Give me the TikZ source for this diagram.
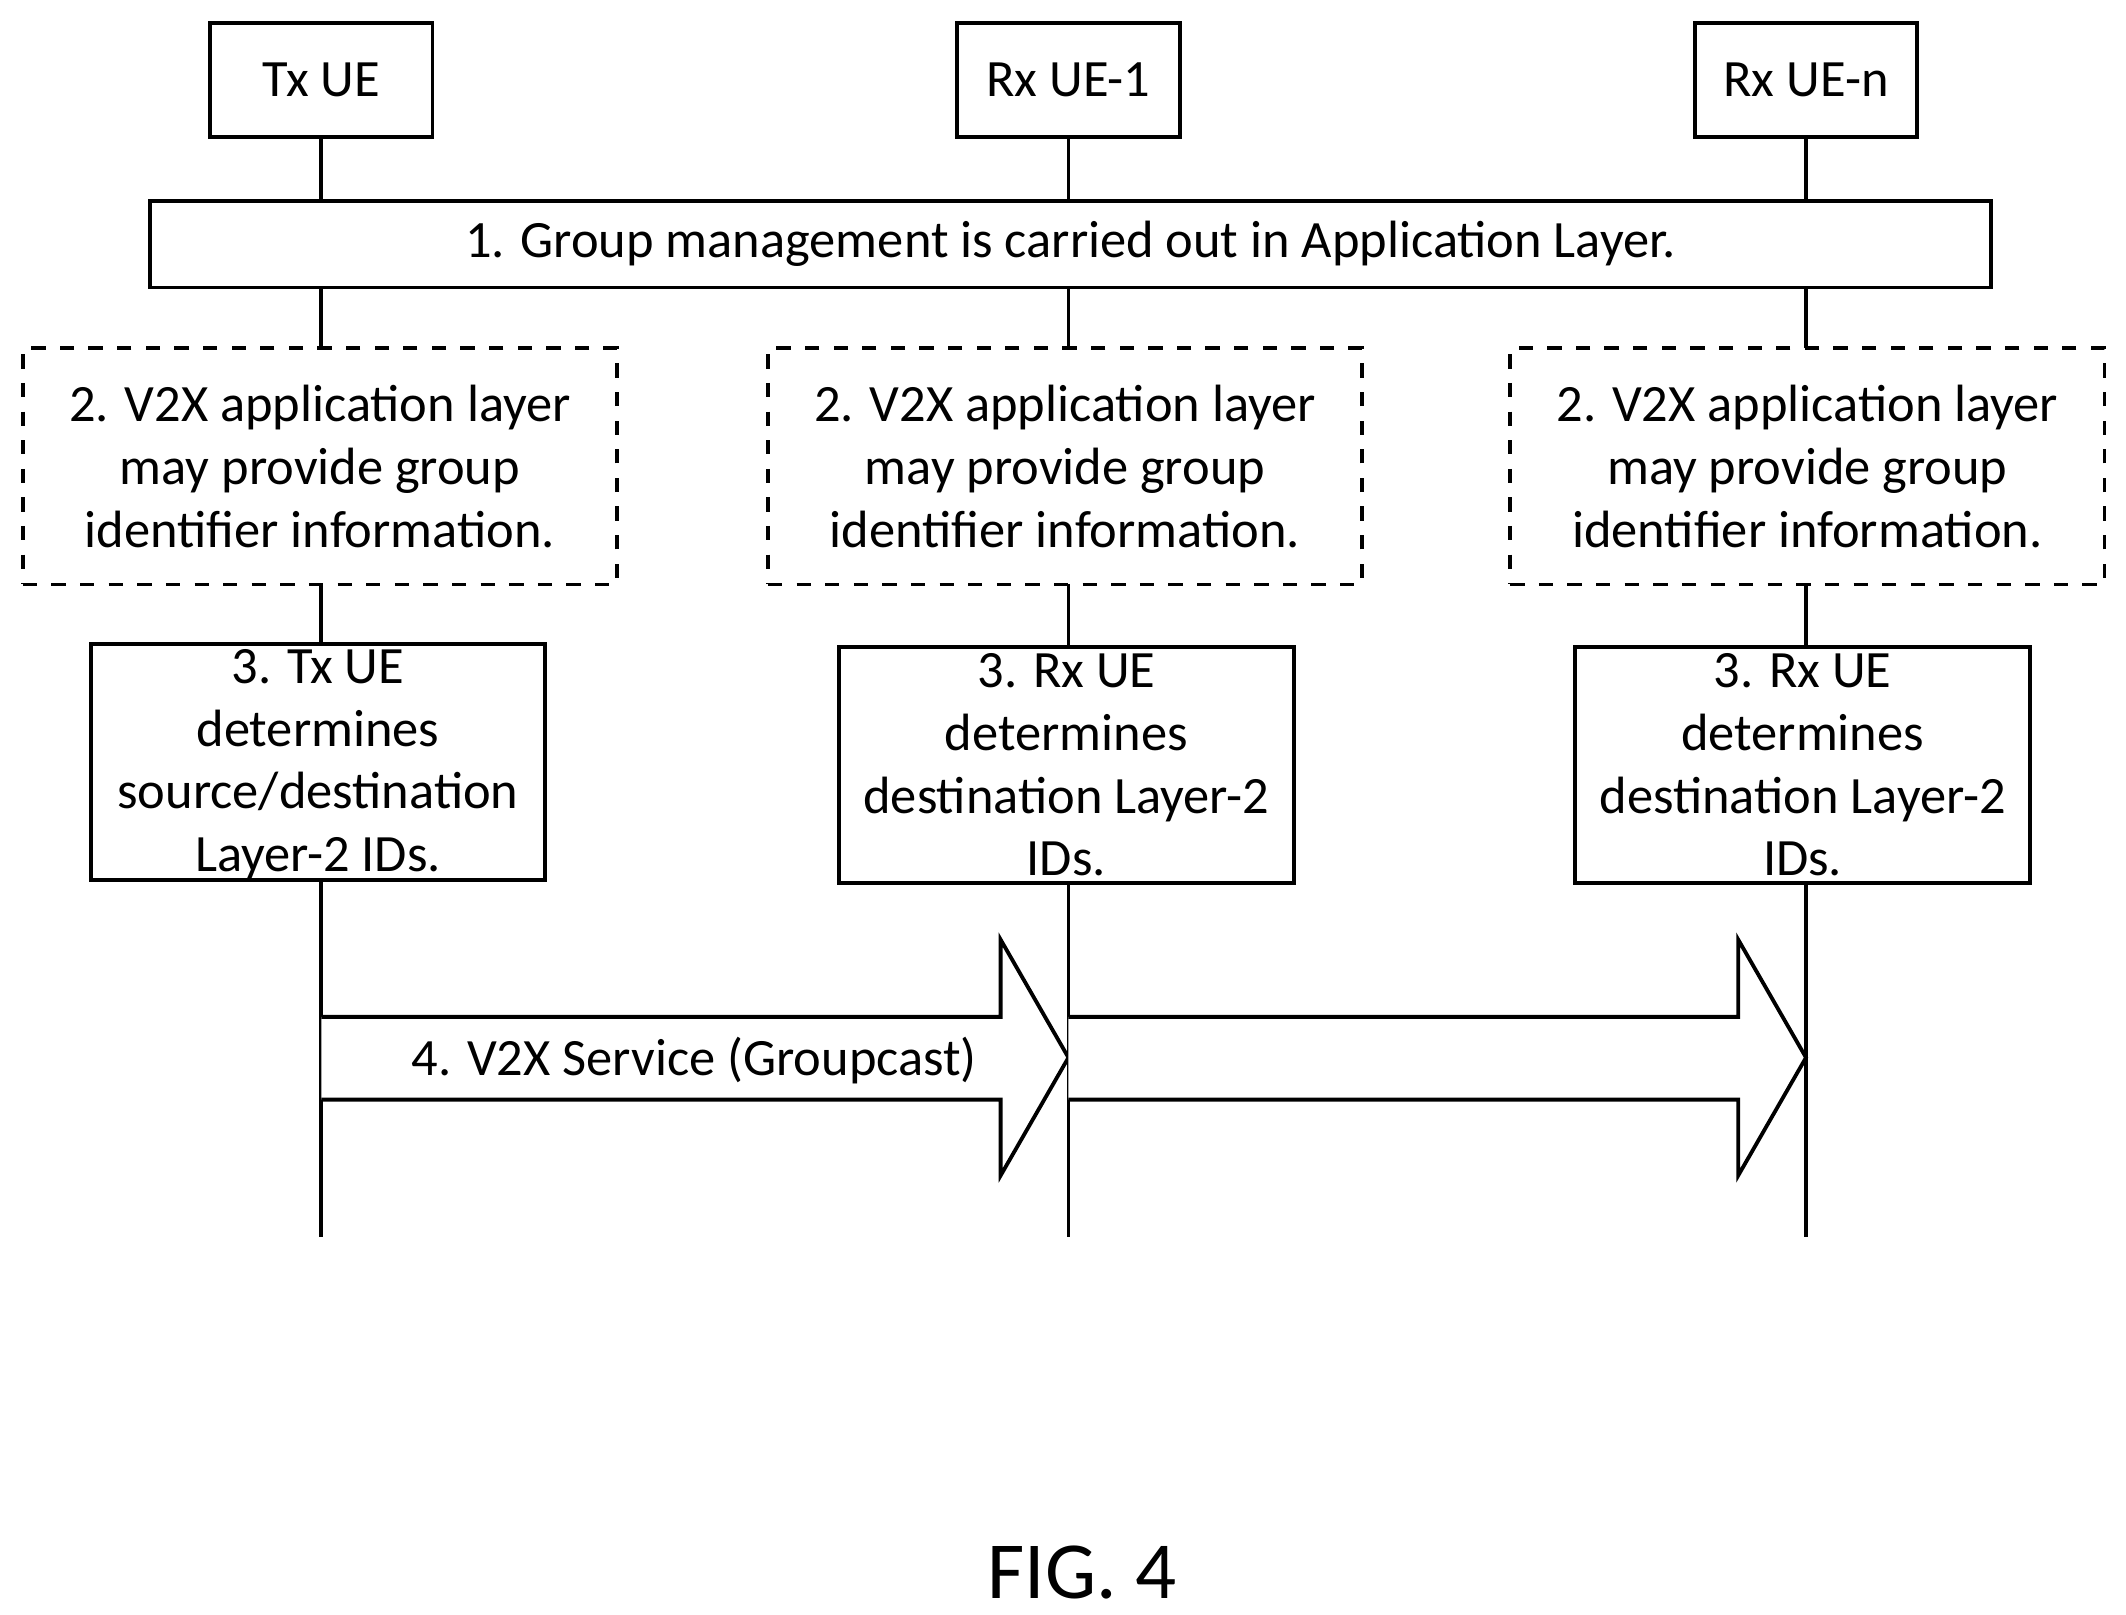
\documentclass[tikz,border=0pt]{standalone}
\usepackage{fontspec}
\setmainfont{Carlito}
\usetikzlibrary{positioning}

\begin{document}
\begin{tikzpicture}[x=0.01cm,y=-0.01cm,
	ue/.style={draw,thick,fill=white,minimum width=1.64cm,minimum height=0.84cm,font=\fontsize{11}{13}\selectfont},
	stepbox/.style={draw,thick,fill=white,inner sep=0pt},
	txt/.style={align=center,font=\fontsize{11}{13.2}\selectfont,inner sep=0pt},
	life/.style={draw=black,thick}]
	\useasboundingbox (0,0) rectangle (1568,1191);
	% entities
	\node[ue] (tx) at (237,59) {Tx UE};
	\node[ue] (rx1) at (788,59) {Rx UE-1};
	\node[ue] (rxn) at (1332,59) {Rx UE-n};
	\coordinate (txend) at (237,912);
	\coordinate (rx1end) at (788,912);
	\coordinate (rxnend) at (1332,912);
	\draw[life] (tx) -- (txend);
	\draw[life] (rx1) -- (rx1end);
	\draw[life] (rxn) -- (rxnend);
	% step 1
	\node[stepbox,minimum width=13.57cm,minimum height=0.64cm,txt,draw,fill=white] (grp) at (789.5,180)
		{1. Group management is carried out in Application Layer.};
	% step 2
	\foreach \n/\x in {a/236,b/785.5,c/1333}{
		\node[stepbox,dashed,minimum width=4.38cm,minimum height=1.74cm] (app\n) at (\x,344) {};
		\node[txt] (apptxt\n) at (app\n) {2. V2X application layer\\may provide group\\identifier information.};
	}
	% step 3
	\node[stepbox,minimum width=3.35cm,minimum height=1.74cm] (det0) at (234.5,562) {};
	\node[txt,anchor=north] (dettxt0) at (234.5,478) {3. Tx UE\\determines\\source/destination\\Layer-2 IDs.};
	\node[stepbox,minimum width=3.35cm,minimum height=1.74cm] (det1) at (786.5,564) {};
	\node[txt,anchor=north] (dettxt1) at (786.5,481) {3. Rx UE\\determines\\destination Layer-2\\IDs.};
	\node[stepbox,minimum width=3.35cm,minimum height=1.74cm] (det2) at (1329.5,564) {};
	\node[txt,anchor=north] (dettxt2) at (1329.5,481) {3. Rx UE\\determines\\destination Layer-2\\IDs.};
	% step 4
	\draw[thick,fill=white] (237,750) -- (738,750) -- (738,693) -- (788,780) -- (738,867) -- (738,811) -- (237,811);
	\draw[thick,fill=white] (788,750) -- (1282,750) -- (1282,693) -- (1332,780) -- (1282,867) -- (1282,811) -- (788,811);
	\node[txt] (svc) at (512,782) {4. V2X Service (Groupcast)};
	\node[txt,font=\fontsize{17}{20}\selectfont] (fig) at (798,1160) {FIG. 4};
\end{tikzpicture}
\end{document}
